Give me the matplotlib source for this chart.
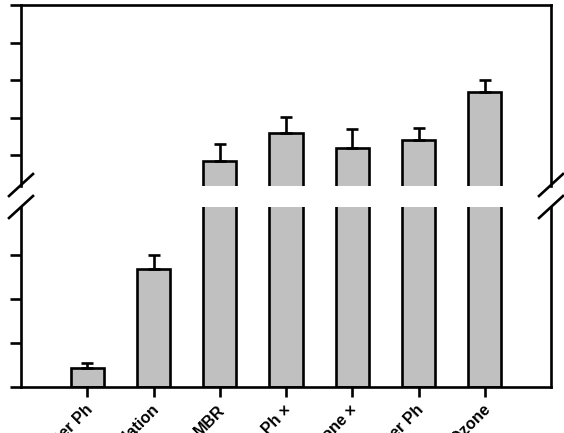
import matplotlib
matplotlib.use("Agg")
import matplotlib.pyplot as plt
import matplotlib.transforms as mtransforms
from matplotlib.lines import Line2D
import numpy as np

# data (units arbitrary since tick labels are cropped)
labels = ["Filter Ph", "Coagulation", "MBR", "MBR + Ph ×",
          "MBR + Ozone ×", "MBR + Filter Ph", "MBR + Ozone"]
means = [0.43, 2.68, 18.4, 25.9, 21.9, 24.0, 36.8]
errs = [0.11, 0.32, 4.5, 4.2, 5.0, 3.2, 3.2]

lower_ticks = [0, 1, 2, 3]
upper_ticks = [20, 30, 40, 50, 60]

plt.rcParams["font.family"] = ["Liberation Sans", "DejaVu Sans"]

W, H = 564, 433
fig = plt.figure(figsize=(W / 100, H / 100), dpi=100)


def box(x0, y0, x1, y1):
    # pixel box (top-left origin) -> figure fraction rect
    return [x0 / W, 1 - y1 / H, (x1 - x0) / W, (y1 - y0) / H]


ax_up = fig.add_axes(box(21, 5, 551, 186))
ax_lo = fig.add_axes(box(21, 207, 551, 387))

x = np.arange(1, len(labels) + 1)
lw = 1.9

for ax in (ax_up, ax_lo):
    ax.bar(x, means, width=0.5, color="#c0c0c0", edgecolor="black",
           linewidth=lw, zorder=2)
    ax.errorbar(x, means, yerr=[np.zeros(len(errs)), errs], fmt="none",
                ecolor="black", elinewidth=lw, capsize=4.5, capthick=lw,
                zorder=3)
    ax.set_xlim(0, 8)
    for s in ax.spines.values():
        s.set_linewidth(lw)
    ax.tick_params(axis="y", direction="out", length=8, width=lw,
                   labelleft=False, right=False)

ax_lo.set_ylim(0, 180 / 44)
ax_lo.set_yticks(lower_ticks)
ax_lo.spines["top"].set_visible(False)
ax_lo.set_xticks(x)
ax_lo.set_xticklabels(labels, rotation=45, ha="right", va="center",
                      rotation_mode="anchor", fontsize=11.5, fontweight="bold")
ax_lo.tick_params(axis="x", direction="out", length=7, width=lw, pad=7)
shift = mtransforms.ScaledTranslation(3 / 100, -1 / 100, fig.dpi_scale_trans)
for t in ax_lo.get_xticklabels():
    t.set_transform(t.get_transform() + shift)

ax_up.set_ylim(60 - 181 / 3.75, 60)
ax_up.set_yticks(upper_ticks)
ax_up.spines["bottom"].set_visible(False)
ax_up.tick_params(axis="x", bottom=False, labelbottom=False)

# break marks on both side spines
for sx in (21, 551):
    for y0 in (196, 218):
        fig.add_artist(Line2D([(sx - 12) / W, (sx + 12) / W],
                              [1 - y0 / H, 1 - (y0 - 22) / H],
                              color="black", linewidth=lw))

fig.savefig("out.png", dpi=100)
